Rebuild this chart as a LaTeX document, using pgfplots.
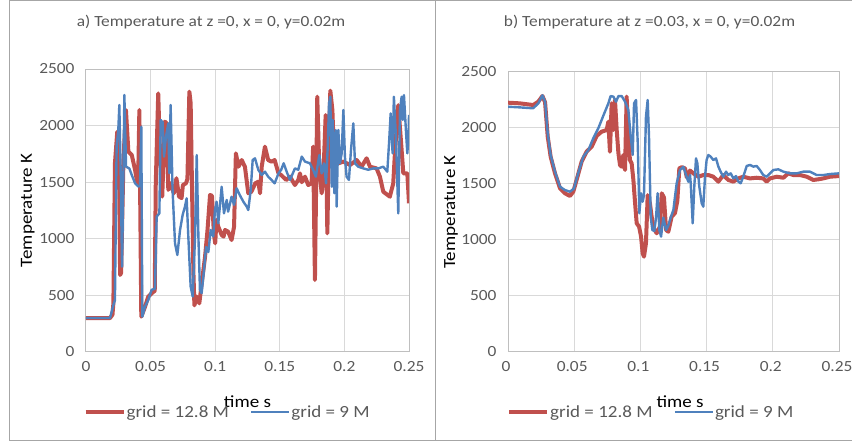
\documentclass[border=0pt]{standalone}
\usepackage{pgfplots}
\pgfplotsset{compat=1.18}
\usepackage{fontspec}
\setmainfont{Carlito}[FakeStretch=1.12]
\definecolor{xred}{HTML}{C0504D}
\definecolor{xblue}{HTML}{4F81BD}
\definecolor{gridc}{HTML}{D9D9D9}
\definecolor{axc}{HTML}{BFBFBF}
\definecolor{txt}{HTML}{595959}
\definecolor{framec}{HTML}{A6A6A6}
\newcommand{\fs}{\fontsize{15.5}{18}\selectfont}
\newcommand{\fl}{\fontsize{17}{20}\selectfont}
\pgfplotsset{
  panel/.style={
    scale only axis, anchor=south west,
    xmin=0, xmax=0.25, ymin=0, ymax=2500,
    xtick={0,0.05,0.1,0.15,0.2,0.25},
    xticklabels={0,0.05,0.1,0.15,0.2,0.25},
    ytick={0,500,1000,1500,2000,2500},
    yticklabels={0,500,1000,1500,2000,2500},
    grid=major, major grid style={gridc, line width=1pt},
    axis line style={axc, line width=1pt},
    tick style={draw=none},
    ticklabel style={font=\fs, text=txt},
    xticklabel style={yshift=-6pt},
    yticklabel style={xshift=-8pt},
    label style={font=\fl},
    title style={font=\fs, text=txt, anchor=center},
    legend style={draw=none, fill=none, font=\fl, text=txt, legend columns=2, anchor=west,
      inner sep=0pt, nodes={inner sep=1pt},
      /tikz/every even column/.append style={column sep=20pt}},
    legend image code/.code={\draw[##1] (0pt,0pt) -- (38pt,0pt);},
  },
  redl/.style={xred, line width=4pt, line join=round},
  bluel/.style={xblue, line width=2.4pt, line join=round},
}
\begin{document}
\begin{tikzpicture}
\useasboundingbox (0,0) rectangle (852pt,442pt);
\draw[framec, line width=1pt] (9pt,1pt) -- (9pt,441pt);
\draw[framec, line width=1pt] (435pt,1pt) -- (435pt,441pt);
\draw[framec, line width=1pt] (9pt,441.5pt) -- (852pt,441.5pt);
\draw[framec, line width=1pt] (9pt,1.5pt) -- (852pt,1.5pt);
\begin{axis}[panel, at={(86pt,90pt)}, width=323pt, height=283pt,
  title={a) Temperature at z =0, x = 0, y=0.02m}, title style={at={(0.387,1.145)}},
  xlabel={time s}, xlabel style={at={(0.5,-0.177)}, anchor=center},
  ylabel={Temperature K}, ylabel style={at={(-0.18,0.5)}, anchor=center},
  legend style={at={(-0.008,-0.212)}}]
\addplot[redl] coordinates {
(0,300) (0.0186,300) (0.0205,330) (0.0212,430) (0.0224,1667) (0.0242,1946) (0.0255,1700) (0.0264,680)
(0.0272,700) (0.0290,1700) (0.0309,2138) (0.0328,1770) (0.0354,1741) (0.0380,1608) (0.0397,1490) (0.0405,1600)
(0.0413,2138) (0.0428,312) (0.0457,400) (0.0482,490) (0.0520,530) (0.0532,540) (0.0540,1490) (0.0559,2285)
(0.0573,1755) (0.0590,1373) (0.0610,2035) (0.0624,2020) (0.0637,1432) (0.0655,1490) (0.0680,1402) (0.0700,1535)
(0.0720,1373) (0.0740,1360) (0.0750,1475) (0.0774,1490) (0.0785,1530) (0.0800,2300) (0.0810,2200) (0.0831,720)
(0.0839,412) (0.0857,490) (0.0877,430) (0.0895,600) (0.0921,836) (0.0940,1071) (0.0960,1387) (0.0975,1380)
(0.0990,1042) (0.1000,960) (0.1010,1166) (0.1024,1107) (0.1050,1034) (0.1065,1019) (0.1076,1078) (0.1100,1063)
(0.1127,989) (0.1146,1107) (0.1160,1755) (0.1180,1637) (0.1205,1696) (0.1230,1637) (0.1256,1402) (0.1280,1416)
(0.1310,1490) (0.1334,1505) (0.1347,1402) (0.1360,1637) (0.1385,1814) (0.1410,1696) (0.1437,1681) (0.1460,1696)
(0.1490,1578) (0.1510,1564) (0.1550,1519) (0.1579,1549) (0.1617,1475) (0.1643,1520) (0.1656,1578) (0.1670,1500)
(0.1695,1549) (0.1720,1475) (0.1746,1490) (0.1758,1814) (0.1772,636) (0.1790,2255) (0.1806,1608) (0.1824,1402)
(0.1837,1549) (0.1855,2093) (0.1868,1048) (0.1881,1902) (0.1891,2309) (0.1907,2138) (0.1920,1726) (0.1953,1667)
(0.1992,1682) (0.2044,1652) (0.2095,1696) (0.2133,1637) (0.2172,1711) (0.2198,1637) (0.2249,1622) (0.2275,1549)
(0.2301,1416) (0.2352,1372) (0.2378,1490) (0.2391,1755) (0.2417,2180) (0.2443,1784) (0.2456,1578) (0.2487,1578)
(0.2500,1314)};
\addlegendentry{grid = 12.8 M}
\addplot[bluel] coordinates {
(0,300) (0.0186,300) (0.0212,415) (0.0224,458) (0.0237,1814) (0.0250,1961) (0.0258,2182) (0.0268,1608)
(0.0279,754) (0.0290,1608) (0.0297,2270) (0.0310,1637) (0.0335,1622) (0.0354,1564) (0.0380,1490) (0.0405,1461)
(0.0418,1470) (0.0428,1990) (0.0436,312) (0.0457,400) (0.0482,460) (0.0508,549) (0.0534,560) (0.0547,1196)
(0.0568,1225) (0.0578,2049) (0.0593,2030) (0.0604,1726) (0.0619,1902) (0.0637,2020) (0.0645,1579) (0.0655,2182)
(0.0670,1432) (0.0689,960) (0.0707,857) (0.0728,1078) (0.0748,1211) (0.0766,1284) (0.0779,1358) (0.0792,1019)
(0.0810,578) (0.0826,490) (0.0844,1019) (0.0857,1740) (0.0870,1019) (0.0882,549) (0.0895,520) (0.0913,720)
(0.0929,927) (0.0947,883) (0.0965,1078) (0.0985,1020) (0.0998,1255) (0.1011,1328) (0.1024,1137) (0.1050,1460)
(0.1068,1225) (0.1089,1343) (0.1100,1240) (0.1127,1372) (0.1146,1300) (0.1166,1446) (0.1190,1387) (0.1218,1328)
(0.1244,1284) (0.1256,1254) (0.1275,1431) (0.1290,1696) (0.1308,1711) (0.1334,1608) (0.1360,1564) (0.1385,1593)
(0.1410,1549) (0.1437,1519) (0.1460,1490) (0.1490,1578) (0.1510,1608) (0.1530,1667) (0.1558,1578) (0.1579,1520)
(0.1617,1622) (0.1643,1610) (0.1670,1726) (0.1695,1682) (0.1733,1667) (0.1758,1610) (0.1779,1549) (0.1806,1740)
(0.1824,1578) (0.1842,1667) (0.1858,1490) (0.1871,1814) (0.1881,2197) (0.1891,2255) (0.1902,1461) (0.1909,2049)
(0.1922,1402) (0.1933,1961) (0.1940,1284) (0.1953,1961) (0.1966,1667) (0.1979,1755) (0.1992,2138) (0.2004,1726)
(0.2017,1549) (0.2035,1520) (0.2051,1784) (0.2069,2020) (0.2082,1667) (0.2107,1637) (0.2146,1622) (0.2185,1610)
(0.2224,1622) (0.2262,1622) (0.2301,1637) (0.2332,1593) (0.2347,1873) (0.2358,2108) (0.2373,1755) (0.2383,2255)
(0.2399,1902) (0.2409,1520) (0.2417,1225) (0.2430,2138) (0.2443,2255) (0.2451,2050) (0.2461,2270) (0.2476,1961)
(0.2487,1755) (0.2497,1920) (0.2500,2094)};
\addlegendentry{grid = 9 M}
\end{axis}
\begin{axis}[panel, at={(508pt,90pt)}, width=331pt, height=280pt,
  title={b) Temperature at z =0.03, x = 0, y=0.02m}, title style={at={(0.4275,1.157)}},
  xlabel={time s}, xlabel style={at={(0.52,-0.179)}, anchor=center},
  ylabel={Temperature K}, ylabel style={at={(-0.172,0.5)}, anchor=center},
  xticklabel style={xshift=-2pt},
  legend style={at={(-0.003,-0.214)}}]
\addplot[redl] coordinates {
(0,2226) (0.009,2220) (0.019,2205) (0.0229,2235) (0.026,2286) (0.028,2230) (0.030,1922) (0.0322,1744)
(0.0355,1595) (0.0393,1461) (0.043,1417) (0.0468,1393) (0.0493,1431) (0.0519,1540) (0.0556,1699) (0.0594,1789)
(0.0632,1833) (0.067,1930) (0.0707,1967) (0.0745,1982) (0.0758,2056) (0.077,1788) (0.0783,2220) (0.0796,1982)
(0.0808,2250) (0.0821,1982) (0.0834,1774) (0.0846,1669) (0.0859,1654) (0.0871,1759) (0.0884,1625) (0.0896,2280)
(0.0909,1923) (0.0921,1714) (0.0934,1684) (0.0947,1536) (0.096,1327) (0.0972,1149) (0.099,1119) (0.1005,1030)
(0.1017,881) (0.1027,851) (0.1042,970) (0.1055,1400) (0.1072,1327) (0.1085,1208) (0.1103,1100) (0.1123,1060)
(0.1148,1119) (0.1161,1417) (0.1178,1380) (0.1194,1089) (0.1211,1074) (0.1236,1208) (0.1261,1240) (0.1279,1350)
(0.1294,1640) (0.1312,1650) (0.1337,1640) (0.135,1560) (0.1375,1620) (0.14,1595) (0.1438,1565) (0.1475,1580)
(0.1513,1580) (0.1551,1565) (0.1589,1521) (0.1626,1580) (0.1664,1536) (0.1702,1521) (0.174,1550) (0.1777,1565)
(0.1828,1550) (0.1878,1556) (0.1928,1550) (0.1954,1521) (0.1979,1550) (0.2029,1565) (0.208,1556) (0.2117,1595)
(0.2155,1580) (0.2205,1580) (0.2256,1565) (0.2306,1536) (0.2344,1542) (0.2382,1550) (0.2432,1565) (0.25,1571)};
\addlegendentry{grid = 12.8 M}
\addplot[bluel] coordinates {
(0,2190) (0.009,2184) (0.019,2176) (0.0229,2220) (0.026,2292) (0.028,2235) (0.030,1952) (0.0322,1759)
(0.0355,1610) (0.0393,1476) (0.043,1446) (0.0468,1431) (0.0498,1460) (0.0531,1600) (0.0569,1744) (0.0607,1803)
(0.0644,1908) (0.0682,1997) (0.072,2110) (0.0758,2220) (0.0775,2285) (0.0796,2280) (0.0816,2235) (0.0834,2285)
(0.0859,2285) (0.0884,2235) (0.0909,2161) (0.0927,1923) (0.0942,1760) (0.0952,2220) (0.0967,2250) (0.098,1863)
(0.0992,1238) (0.1005,1417) (0.1017,1342) (0.1027,1400) (0.1042,2101) (0.1055,2250) (0.1065,1923) (0.1078,1208)
(0.109,1089) (0.1105,1080) (0.1118,1200) (0.113,1417) (0.1143,1089) (0.1156,1030) (0.1173,1200) (0.1194,1089)
(0.1211,1130) (0.1229,1200) (0.1249,1268) (0.1274,1506) (0.1299,1625) (0.1325,1654) (0.1345,1580) (0.1362,1520)
(0.1375,1580) (0.138,1506) (0.1395,1149) (0.1407,1476) (0.142,1729) (0.143,1685) (0.1445,1476) (0.1463,1327)
(0.1475,1298) (0.1488,1565) (0.15,1714) (0.1513,1759) (0.1531,1744) (0.1551,1714) (0.1571,1729) (0.1589,1655)
(0.1606,1610) (0.1626,1565) (0.1647,1610) (0.1664,1580) (0.1682,1595) (0.1702,1550) (0.1722,1571) (0.174,1521)
(0.1757,1506) (0.1777,1565) (0.1803,1661) (0.1828,1670) (0.1853,1655) (0.1878,1661) (0.1903,1625) (0.1928,1580)
(0.1954,1565) (0.1979,1595) (0.2004,1625) (0.2042,1631) (0.208,1610) (0.213,1595) (0.218,1595) (0.223,1610)
(0.2281,1610) (0.2331,1580) (0.2382,1580) (0.2432,1589) (0.25,1595)};
\addlegendentry{grid = 9 M}
\end{axis}
\end{tikzpicture}
\end{document}
